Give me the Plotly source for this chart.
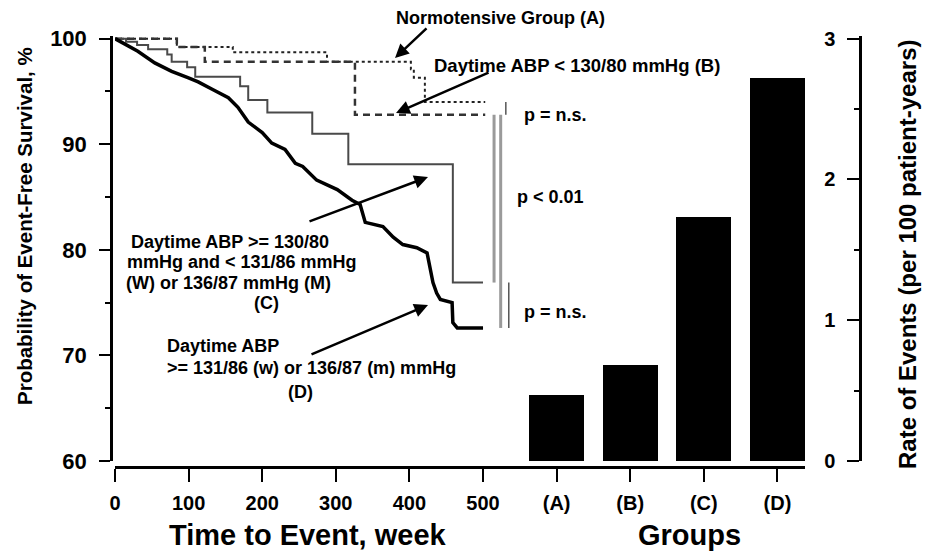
import plotly.graph_objects as go

# ---------------- data ----------------
# Kaplan-Meier curves: time (weeks) and event-free survival (%)
a_weeks = [0, 84, 160, 288, 402, 406, 421, 503]
a_surv = [100, 99.2, 98.7, 97.8, 97.1, 96.3, 94.0, 94.0]

b_weeks = [0, 84, 122, 326, 503]
b_surv = [100, 99.2, 97.8, 92.8, 92.8]

c_weeks = [0, 15, 30, 45, 71, 77, 98, 109, 170, 181, 207, 268, 317, 459, 500]
c_surv = [100, 99.7, 99.4, 99.0, 98.5, 97.8, 97.3, 96.4, 95.5, 94.2, 93.0, 91.0, 88.1, 76.9, 76.9]

d_weeks = [0, 31, 54, 77, 99, 113, 132, 154, 167, 181, 200, 213, 231, 245, 255, 274, 302,
           322, 333, 340, 364, 378, 391, 410, 424, 428, 432, 437, 442, 458, 459, 465, 500]
d_surv = [100, 98.8, 97.7, 96.9, 96.3, 95.9, 95.2, 94.4, 93.5, 92.1, 91.1, 90.1, 89.5, 88.2,
          87.9, 86.6, 85.7, 84.7, 84.3, 82.6, 82.2, 81.2, 80.5, 80.2, 79.7, 78.4, 76.9, 75.9,
          75.3, 75.0, 73.1, 72.6, 72.6]

# Event rates per 100 patient-years by group
groups = ["(A)", "(B)", "(C)", "(D)"]
rates = [0.47, 0.68, 1.73, 2.72]

time_ticks = [0, 100, 200, 300, 400, 500]
surv_ticks = [60, 70, 80, 90, 100]
rate_ticks = [0, 1, 2, 3]

# ---------------- layout helpers ----------------
W, H = 934, 553
L, R, T, B = 111, 74, 36, 86
PW, PH = W - L - R, H - T - B


def X(px):
    return (px - L) / PW


def Y(py):
    return (H - B - py) / PH


group_pos = [600 + 100 * i for i in range(len(groups))]
y_top = 100.25
y2_top = 3 * (y_top - 60) / 40

FONT = "Liberation Sans"
bold = dict(family=FONT, color="black", weight="bold")

fig = go.Figure()

fig.add_trace(go.Scatter(x=a_weeks, y=a_surv, mode="lines", line_shape="hv",
                         line=dict(color="#222", width=2, dash="dot"), showlegend=False))
fig.add_trace(go.Scatter(x=b_weeks, y=b_surv, mode="lines", line_shape="hv",
                         line=dict(color="#333", width=2.5, dash="7px,5px"), showlegend=False))
fig.add_trace(go.Scatter(x=c_weeks, y=c_surv, mode="lines", line_shape="hv",
                         line=dict(color="#4a4a4a", width=2), showlegend=False))
fig.add_trace(go.Scatter(x=d_weeks, y=d_surv, mode="lines",
                         line=dict(color="black", width=3.5), showlegend=False))

fig.add_trace(go.Bar(x=group_pos, y=rates, width=75, marker=dict(color="black", line_width=0),
                     yaxis="y2", showlegend=False))

# significance brackets (vertical lines between curve end values)
def vline(xv, y0, y1, color, width):
    fig.add_shape(type="line", xref="x", yref="y", x0=xv, x1=xv, y0=y0, y1=y1,
                  line=dict(color=color, width=width))


vline(531, a_surv[-1], b_surv[-1], "#555", 1.5)
vline(515, b_surv[-1], c_surv[-1], "#9a9a9a", 3)
vline(524, b_surv[-1], d_surv[-1], "#9a9a9a", 3)
vline(535, c_surv[-1], d_surv[-1], "#555", 1.5)

annotations = []


def text(s, px, py, size=18, angle=0):
    annotations.append(dict(text=s, x=X(px), y=Y(py), xref="paper", yref="paper",
                            showarrow=False, xanchor="center", yanchor="middle",
                            textangle=angle, font=dict(bold, size=size)))


def px2data(px, py):
    xd = (px - 115) / 0.736
    yd = 60 + (461 - py) / ((461 - T) / (y_top - 60))
    return xd, yd


def arrow(tail, head):
    hx, hy = px2data(*head)
    tx, ty = px2data(*tail)
    annotations.append(dict(text="", x=hx, y=hy, xref="x", yref="y", ax=tx, ay=ty,
                            axref="x", ayref="y", showarrow=True, arrowhead=2,
                            arrowsize=1.1, arrowwidth=2.5, arrowcolor="black", standoff=0))


text("Normotensive Group (A)", 500, 18)
text("Daytime ABP &lt; 130/80 mmHg (B)", 577, 65, size=18.5)
text("p = n.s.", 555, 115)
text("p &lt; 0.01", 550, 197)
text("p = n.s.", 555, 312)
text("Daytime ABP &gt;= 130/80", 230, 242)
text("mmHg and &lt; 131/86 mmHg", 242, 262)
text("(W) or 136/87 mmHg (M)", 228, 283)
text("(C)", 266, 303)
text("Daytime ABP", 223, 346)
text("&gt;= 131/86 (w) or 136/87 (m) mmHg", 311, 368)
text("(D)", 300, 392)

arrow((428, 27), (395, 58))
arrow((490, 72), (396, 113))
arrow((308, 222), (428, 177))
arrow((310, 355), (428, 305))

text("Time to Event, week", 308, 535, size=29)
text("Groups", 689, 535, size=29)
text("Probability of Event-Free Survival, %", 25, 226, size=20.5, angle=-90)
text("Rate of Events (per 100 patient-years)", 908, 255, size=24, angle=-90)

fig.update_layout(
    width=W, height=H,
    margin=dict(l=L, r=R, t=T, b=B, pad=0),
    paper_bgcolor="white", plot_bgcolor="white",
    showlegend=False,
    annotations=annotations,
    bargap=0,
    xaxis=dict(
        domain=[X(115), X(805.4)], range=[0, 938], anchor="free", position=0,
        tickvals=time_ticks + group_pos,
        ticktext=[str(t) for t in time_ticks] + groups,
        ticks="outside", ticklen=13, tickwidth=2, tickcolor="black",
        showline=True, linecolor="black", linewidth=2.5,
        showgrid=False, zeroline=False,
        tickfont=dict(bold, size=20), ticklabelstandoff=4,
    ),
    yaxis=dict(
        domain=[Y(461), 1], range=[60, y_top], anchor="free", position=0,
        tickvals=surv_ticks, ticks="outside", ticklen=11, tickwidth=2, tickcolor="black",
        minor=dict(dtick=5, tick0=60, ticks="outside", ticklen=5, tickwidth=2, tickcolor="black"),
        showline=True, linecolor="black", linewidth=2.5,
        showgrid=False, zeroline=False,
        tickfont=dict(bold, size=22), ticklabelstandoff=8,
    ),
    yaxis2=dict(
        domain=[Y(461), 1], range=[0, y2_top], overlaying="y", anchor="free", position=1,
        side="left",
        tickvals=rate_ticks, ticks="outside", ticklen=12, tickwidth=2, tickcolor="black",
        minor=dict(dtick=0.5, tick0=0, ticks="outside", ticklen=5, tickwidth=2, tickcolor="black"),
        showline=True, linecolor="black", linewidth=2.5,
        showgrid=False, zeroline=False,
        tickfont=dict(bold, size=20), ticklabelstandoff=8,
    ),
)

fig.write_html("out.html", config={"displayModeBar": False},
               post_script="document.body.style.margin='0px';")
